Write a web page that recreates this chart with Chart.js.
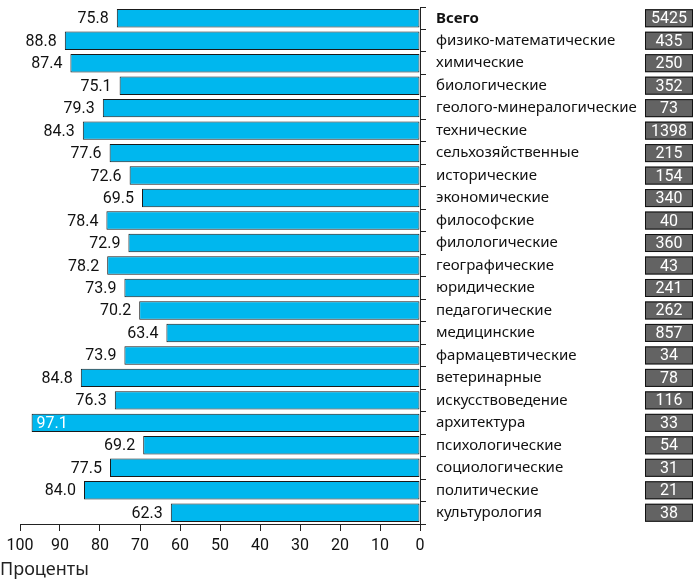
<!DOCTYPE html>
<html>
<head>
<meta charset="utf-8">
<script src="https://cdn.jsdelivr.net/npm/chart.js@4.4.1/dist/chart.umd.min.js"></script>
<style>
  html, body { margin: 0; padding: 0; background: #fff; }
  #wrap { width: 698px; height: 582px; }
</style>
</head>
<body>
<div id="wrap"><canvas id="myChart" width="698" height="582"></canvas></div>
<script>
let categories = ["Всего", "физико-математические", "химические", "биологические",
  "геолого-минералогические", "технические", "сельхозяйственные", "исторические",
  "экономические", "философские", "филологические", "географические", "юридические",
  "педагогические", "медицинские", "фармацевтические", "ветеринарные",
  "искусствоведение", "архитектура", "психологические", "социологические",
  "политические", "культурология"];
let percents = [75.8, 88.8, 87.4, 75.1, 79.3, 84.3, 77.6, 72.6, 69.5, 78.4, 72.9, 78.2,
  73.9, 70.2, 63.4, 73.9, 84.8, 76.3, 97.1, 69.2, 77.5, 84.0, 62.3];
let counts = [5425, 435, 250, 352, 73, 1398, 215, 154, 340, 40, 360, 43, 241, 262, 857,
  34, 78, 116, 33, 54, 31, 21, 38];
let xTicks = [100, 90, 80, 70, 60, 50, 40, 30, 20, 10, 0];
let axisTitle = "Проценты";

const narrow = "Roboto, 'Liberation Sans', sans-serif";
const labelFont = "'Noto Sans', 'DejaVu Sans', sans-serif";

var ctx = document.getElementById("myChart");

// value labels next to the bars + count boxes + axis title
const extras = {
  id: "extras",
  afterDatasetsDraw(chart) {
    const c = chart.ctx;
    const meta = chart.getDatasetMeta(0);
    c.save();
    c.font = "16px " + narrow;
    c.textBaseline = "middle";
    meta.data.forEach((bar, i) => {
      const left = Math.min(bar.x, bar.base);
      const txt = percents[i].toFixed(1);
      if (percents[i] > 95) {
        c.fillStyle = "#fff";
        c.textAlign = "left";
        c.fillText(txt, left + 5, bar.y + 1);
      } else {
        c.fillStyle = "#111";
        c.textAlign = "right";
        c.fillText(txt, left - 8, bar.y + 1);
      }
    });
    // count boxes
    const bx = chart.chartArea.right + chart.scales.y.width;
    meta.data.forEach((bar, i) => {
      c.fillStyle = "#636363";
      c.strokeStyle = "#111";
      c.lineWidth = 1;
      c.fillRect(bx, bar.y - 9, 48, 18);
      c.strokeRect(bx + 0.5, bar.y - 8.5, 47, 17);
      c.fillStyle = "#fff";
      c.textAlign = "center";
      c.fillText(String(counts[i]), bx + 24, bar.y + 1);
    });
    c.font = "18px " + labelFont;
    c.fillStyle = "#222";
    c.textAlign = "left";
    c.fillText(axisTitle, 0, 570);
    c.restore();
  },
};

var myChart = new Chart(ctx, {
  type: "bar",
  data: {
    labels: categories,
    datasets: [
      {
        data: percents,
        backgroundColor: "#00b7ee",
        borderColor: "#1a1a1a",
        borderWidth: 1,
        borderSkipped: false,
        barPercentage: 0.82,
        categoryPercentage: 1.0,
      },
    ],
  },
  options: {
    indexAxis: "y",
    responsive: false,
    animation: false,
    layout: { padding: { left: 20, right: 53, top: 7, bottom: 28 } },
    plugins: { legend: { display: false }, tooltip: { enabled: false } },
    scales: {
      x: {
        min: 0,
        max: 100,
        reverse: true,
        afterBuildTicks: (scale) => {
          scale.ticks = xTicks.map((v) => ({ value: v }));
        },
        afterFit: (scale) => {
          scale.height = 30;
          scale.paddingLeft = 0;
          scale.paddingRight = 0;
        },
        grid: { drawOnChartArea: false, tickLength: 7, color: "#222" },
        border: { color: "#222" },
        ticks: { color: "#111", font: { family: narrow, size: 16 }, padding: 5 },
      },
      y: {
        position: "right",
        afterFit: (scale) => {
          scale.width = 225;
          scale.paddingTop = 0;
          scale.paddingBottom = 0;
        },
        grid: { drawOnChartArea: false, tickLength: 6, color: "#222", offset: true },
        border: { color: "#222" },
        ticks: {
          color: "#111",
          padding: 10,
          font: (c) => ({ family: labelFont, size: 15, weight: c.index === 0 ? "bold" : "normal" }),
        },
      },
    },
  },
  plugins: [extras],
});
</script>
</body>
</html>
